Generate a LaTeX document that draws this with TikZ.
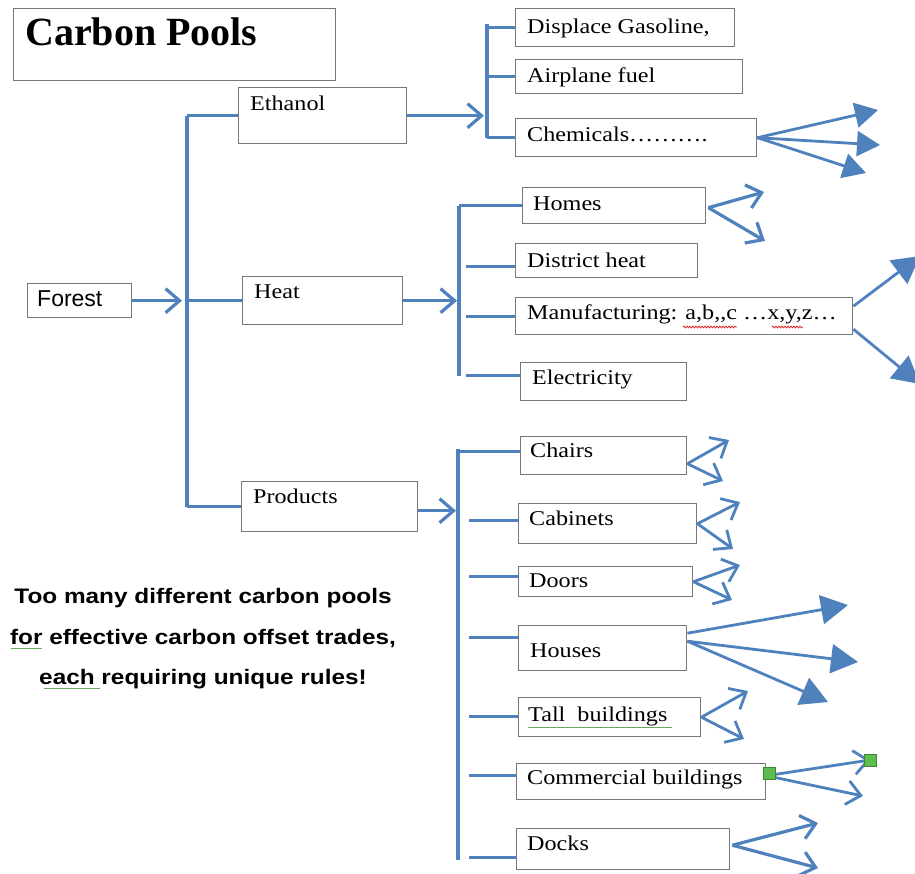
\documentclass[tikz,border=0pt]{standalone}
\usepackage{fontspec}
\setmainfont{Liberation Serif}
\newfontfamily\lblfam[FakeStretch=1.15]{Liberation Serif}
\newfontfamily\notefam[FakeStretch=1.16]{Liberation Sans}
\newfontfamily\forestfam{Liberation Sans}
\usetikzlibrary{arrows.meta,calc,decorations.pathmorphing}
\definecolor{myblue}{RGB}{79,129,189}
\definecolor{boxgray}{RGB}{120,120,120}
\definecolor{handlegreen}{RGB}{92,190,80}
\definecolor{spellred}{RGB}{220,40,40}
\definecolor{gramgreen}{RGB}{100,170,90}
\begin{document}
\begin{tikzpicture}[x=1pt,y=-1pt,
  box/.style={draw=boxgray, line width=1.4pt, fill=white, inner sep=0pt, anchor=north west},
  lbl/.style={anchor=base west, inner sep=0pt, font=\lblfam\fontsize{21}{25}\selectfont},
  bl/.style={draw=myblue, line width=3.2pt},
  barb/.style={bl, -{Straight Barb[length=14pt,width=24pt]}},
  sbarb/.style={bl, line width=2.8pt, -{Straight Barb[length=14pt,width=24pt]}},
  tri/.style={bl, line width=2.8pt, -{Triangle[length=23pt,width=25pt]}},
  bigtri/.style={bl, line width=2.8pt, -{Triangle[length=27pt,width=29pt]}},
  note/.style={anchor=base, inner sep=0pt, font=\notefam\bfseries\fontsize{21}{25}\selectfont},
  handle/.style={fill=handlegreen, draw=handlegreen!70!black, line width=0.5pt, inner sep=0pt, minimum size=12pt}
]
\useasboundingbox (0,0) rectangle (915,873);

% ---------- boxes ----------
\node[box, minimum width=322pt, minimum height=72pt] (title) at (13,8) {};
\node[box, minimum width=168pt, minimum height=56pt] (eth) at (238,87) {};
\node[box, minimum width=104pt, minimum height=34pt] (forest) at (27,283) {};
\node[box, minimum width=160pt, minimum height=48pt] (heat) at (242,276) {};
\node[box, minimum width=176pt, minimum height=50pt] (prod) at (241,481) {};
\node[box, minimum width=219pt, minimum height=38pt] (disp) at (515,8) {};
\node[box, minimum width=227pt, minimum height=34pt] (air) at (515,59) {};
\node[box, minimum width=241pt, minimum height=38pt] (chem) at (515,118) {};
\node[box, minimum width=183pt, minimum height=36pt] (homes) at (522,187) {};
\node[box, minimum width=182pt, minimum height=34pt] (dist) at (515,243) {};
\node[box, minimum width=337pt, minimum height=37pt] (manu) at (515,297) {};
\node[box, minimum width=166pt, minimum height=38pt] (elec) at (520,362) {};
\node[box, minimum width=166pt, minimum height=38pt] (chairs) at (520,436) {};
\node[box, minimum width=178pt, minimum height=40pt] (cab) at (518,503) {};
\node[box, minimum width=174pt, minimum height=30pt] (doors) at (518,566) {};
\node[box, minimum width=168pt, minimum height=45pt] (houses) at (518,625) {};
\node[box, minimum width=182pt, minimum height=39pt] (tall) at (518,697) {};
\node[box, minimum width=249pt, minimum height=36pt] (comm) at (516,763) {};
\node[box, minimum width=213pt, minimum height=41pt] (docks) at (516,828) {};

% ---------- texts ----------
\node[anchor=base west, inner sep=0pt, font=\bfseries\fontsize{40}{44}\selectfont] (titleT) at (25,45) {Carbon Pools};
\node[lbl] (ethT) at (250,110) {Ethanol};
\node[anchor=base west, inner sep=0pt, font=\forestfam\fontsize{23}{27}\selectfont] (forestT) at (37,306) {Forest};
\node[lbl] (heatT) at (254,298) {Heat};
\node[lbl] (prodT) at (253,503) {Products};
\node[lbl] (dispT) at (527,33) {Displace Gasoline,};
\node[lbl] (airT) at (527,82) {Airplane fuel};
\node[lbl] (chemT) at (527,141) {Chemicals……….};
\node[lbl] (homesT) at (533,210) {Homes};
\node[lbl] (distT) at (527,267) {District heat};
\node[lbl] (manuT) at (527,319) {Manufacturing: a,b,,c …x,y,z…};
\node[lbl] (elecT) at (532,384) {Electricity};
\node[lbl] (chairsT) at (530,457) {Chairs};
\node[lbl] (cabT) at (529,525) {Cabinets};
\node[lbl] (doorsT) at (529,587) {Doors};
\node[lbl] (housesT) at (530,657) {Houses};
\node[lbl] (tallT) at (528,721) {Tall\ \ buildings};
\node[lbl] (commT) at (527,784) {Commercial buildings};
\node[lbl] (docksT) at (527,850) {Docks};

\node[note] (n1) at (203,603) {Too many different carbon pools};
\node[note] (n2) at (203,644) {for effective carbon offset trades,};
\node[note] (n3) at (203,684) {each requiring unique rules!};

% proofing underlines
\draw[spellred, line width=0.8pt, decorate, decoration={snake, amplitude=0.9pt, segment length=3pt}] (683,327) -- (737,327);
\draw[spellred, line width=0.8pt, decorate, decoration={snake, amplitude=0.9pt, segment length=3pt}] (772,327) -- (803,327);
\draw[gramgreen, line width=0.9pt] (528,727) -- (672,727);
\draw[gramgreen, line width=0.9pt] (11,648) -- (42,648);
\draw[gramgreen, line width=0.9pt] (44,688) -- (100,688);

% ---------- main bracket ----------
\coordinate (mb) at (187,0);
\coordinate (fa) at (182,0);
\draw[bl] (eth.west -| mb) -- (prod.west -| mb);
\foreach \n in {eth,heat,prod} \draw[bl] (\n.west) -- (\n.west -| mb);
\draw[barb] (forest.east) -- (forest.east -| fa);

% ---------- ethanol bracket ----------
\coordinate (eb) at (487,0);
\coordinate (ea) at (484,0);
\draw[bl] ($(disp.west -| eb)+(0,-4)$) -- (chem.west -| eb);
\foreach \n in {disp,air,chem} \draw[bl] (\n.west) -- (\n.west -| eb);
\draw[barb] (eth.east) -- (eth.east -| ea);

% ---------- heat bracket ----------
\coordinate (hb) at (459,0);
\coordinate (hb2) at (466,0);
\coordinate (ha) at (457,0);
\coordinate (elecTick) at ($(elec.west)+(0,-6)$);
\draw[bl] (homes.west -| hb) -- (elecTick -| hb);
\draw[bl] (homes.west) -- (homes.west -| hb);
\draw[bl] ($(dist.west)+(0,6)$) -- ($(dist.west -| hb2)+(0,6)$);
\draw[bl] (manu.west) -- (manu.west -| hb2);
\draw[bl] (elecTick) -- (elecTick -| hb2);
\draw[barb] (heat.east) -- (heat.east -| ha);

% ---------- products bracket ----------
\coordinate (pb) at (458,0);
\coordinate (pb2) at (469,0);
\coordinate (pa) at (456,0);
\coordinate (ptop) at (458,449);
\coordinate (pbot) at (458,860);
\draw[bl] (ptop) -- (pbot);
\draw[bl] ($(chairs.west)+(0,-4)$) -- ($(chairs.west -| pb)+(0,-4)$);
\draw[bl] ($(cab.west)+(0,-3)$) -- ($(cab.west -| pb2)+(0,-3)$);
\draw[bl] ($(doors.west)+(0,-5)$) -- ($(doors.west -| pb2)+(0,-5)$);
\draw[bl] ($(houses.west)+(0,-11)$) -- ($(houses.west -| pb2)+(0,-11)$);
\draw[bl] ($(tall.west)+(0,-1)$) -- ($(tall.west -| pb2)+(0,-1)$);
\draw[bl] ($(comm.west)+(0,-6)$) -- ($(comm.west -| pb2)+(0,-6)$);
\draw[bl] ($(docks.west)+(0,8)$) -- ($(docks.west -| pb2)+(0,8)$);
\draw[barb] ($(prod.east)+(0,4)$) -- ($(prod.east -| pa)+(0,4)$);

% ---------- fan-out arrows ----------
\coordinate (c1) at (878,110);
\coordinate (c2) at (880,145);
\coordinate (c3) at (866,173);
\foreach \e in {c1,c2,c3} \draw[tri] (chem.east) -- (\e);

\coordinate (h1) at (764,192);
\coordinate (h2) at (765,241);
\foreach \e in {h1,h2} \draw[barb] ($(homes.east)+(2,2)$) -- (\e);

\coordinate (m1) at (920,256);
\coordinate (m2) at (920,384);
\draw[bigtri] ($(manu.east)+(0,-10)$) -- (m1);
\draw[bigtri] ($(manu.east)+(0,13)$) -- (m2);

\coordinate (ch1) at (729,440);
\coordinate (ch2) at (723,481);
\foreach \e in {ch1,ch2} \draw[sbarb] ($(chairs.east)+(0,8)$) -- (\e);

\coordinate (cb1) at (740,502);
\coordinate (cb2) at (733,549);
\foreach \e in {cb1,cb2} \draw[sbarb] (cab.east) -- (\e);

\coordinate (d1) at (740,565);
\coordinate (d2) at (732,600);
\foreach \e in {d1,d2} \draw[sbarb] (doors.east) -- (\e);

\coordinate (u1) at (848,605);
\coordinate (u2) at (858,662);
\coordinate (u3) at (828,702);
\draw[bigtri] ($(houses.east)+(0,-15)$) -- (u1);
\foreach \e in {u2,u3} \draw[bigtri] ($(houses.east)+(0,-7)$) -- (\e);

\coordinate (t1) at (748,691);
\coordinate (t2) at (744,739);
\foreach \e in {t1,t2} \draw[sbarb] (tall.east) -- (\e);

\coordinate (k1) at (870,760);
\coordinate (k2) at (863,796);
\foreach \e in {k1,k2} \draw[sbarb] ($(comm.east)+(0,-6)$) -- (\e);
\node[handle] (g1) at (769,773) {};
\node[handle] (g2) at (870,760) {};

\coordinate (o1) at (818,823);
\coordinate (o2) at (818,868);
\foreach \e in {o1,o2} \draw[barb] ($(docks.east)+(2,-4)$) -- (\e);
\end{tikzpicture}
\end{document}
